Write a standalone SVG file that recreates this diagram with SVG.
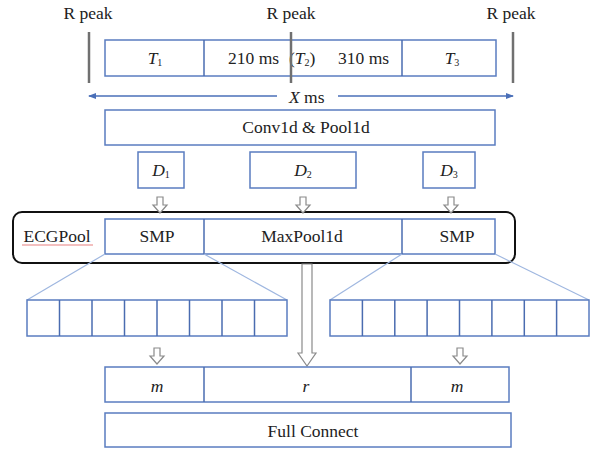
<svg xmlns="http://www.w3.org/2000/svg" width="600" height="451" viewBox="0 0 600 451" font-family="'Liberation Serif', 'Times New Roman', serif">
  <style>
    .box { fill: #ffffff; stroke: #5a7cc0; stroke-width: 1.5; }
    .div { stroke: #4a6cb0; stroke-width: 1.5; }
    .fan { stroke: #9fb7e0; stroke-width: 1.2; fill: none; }
    .peak { stroke: #707070; stroke-width: 2.5; }
    .axis { stroke: #4a6fb8; stroke-width: 1.5; fill: none; }
    .hollow { fill: #ffffff; stroke: #8a8a8a; stroke-width: 1.2; stroke-linejoin: miter; }
    text { font-family: "Liberation Serif", "Times New Roman", serif; font-size: 17.5px; fill: #222222; }
    .c { text-anchor: middle; }
    .it { font-style: italic; }
    .sub { font-size: 10px; font-style: normal; }
  </style>
  <defs>
    <marker id="ah" markerWidth="8" markerHeight="8" refX="7" refY="4" orient="auto-start-reverse" markerUnits="userSpaceOnUse">
      <path d="M0,1 L8,4 L0,7 Z" fill="#4a6fb8"/>
    </marker>
    <!-- small hollow down arrow, tip at origin -->
    <path id="harrow" class="hollow" d="M-3,-16 L3,-16 L3,-8 L7,-8 L0,0 L-7,-8 L-3,-8 Z"/>
  </defs>

  <!-- R peak labels -->
  <g id="rpeaks">
    <text class="c" x="88" y="19">R peak</text>
    <text class="c" x="291" y="19">R peak</text>
    <text class="c" x="511" y="19">R peak</text>
  </g>

  <!-- segment row -->
  <g id="segments">
    <rect class="box" x="105" y="40" width="391" height="36"/>
    <line class="div" x1="204" y1="40" x2="204" y2="76"/>
    <line class="div" x1="402" y1="40" x2="402" y2="76"/>
    <text class="c it" x="155" y="64">T<tspan class="sub" dy="2">1</tspan></text>
    <text x="228" y="64">210 ms</text>
    <text x="289" y="64">(<tspan class="it">T</tspan><tspan class="sub" dy="2">2</tspan><tspan dy="-2">)</tspan></text>
    <text x="338" y="64">310 ms</text>
    <text class="c it" x="452" y="64">T<tspan class="sub" dy="2">3</tspan></text>
  </g>

  <g id="peak-lines">
    <line class="peak" x1="89" y1="32" x2="89" y2="83"/>
    <line class="peak" x1="291" y1="32" x2="291" y2="83"/>
    <line class="peak" x1="513" y1="32" x2="513" y2="83"/>
  </g>

  <!-- X ms span -->
  <g id="span">
    <line class="axis" x1="277" y1="96" x2="89" y2="96" marker-end="url(#ah)"/>
    <line class="axis" x1="338" y1="96" x2="513" y2="96" marker-end="url(#ah)"/>
    <text x="289" y="103"><tspan class="it">X</tspan> ms</text>
  </g>

  <g id="conv">
    <rect class="box" x="105" y="110" width="390" height="35"/>
    <text class="c" x="306" y="133">Conv1d &amp; Pool1d</text>
  </g>

  <g id="d1">
    <rect class="box" x="138" y="152" width="46" height="36"/>
    <text class="c it" x="161" y="176">D<tspan class="sub" dy="2">1</tspan></text>
  </g>
  <g id="d2">
    <rect class="box" x="250" y="152" width="106" height="36"/>
    <text class="c it" x="303" y="176">D<tspan class="sub" dy="2">2</tspan></text>
  </g>
  <g id="d3">
    <rect class="box" x="423" y="152" width="52" height="36"/>
    <text class="c it" x="449" y="176">D<tspan class="sub" dy="2">3</tspan></text>
  </g>

  <!-- ECGPool block -->
  <g id="ecgpool">
    <rect x="13" y="212" width="502" height="51" rx="9" ry="9" fill="#ffffff" stroke="#111111" stroke-width="2"/>
    <text class="c" x="57" y="242">ECGPool</text>
    <line x1="22" y1="245" x2="93" y2="245" stroke="#e88080" stroke-width="1.2"/>
    <rect class="box" x="105" y="219" width="390" height="35"/>
    <line class="div" x1="204" y1="219" x2="204" y2="254"/>
    <line class="div" x1="402" y1="219" x2="402" y2="254"/>
    <text class="c" x="157" y="242">SMP</text>
    <text class="c" x="302" y="242">MaxPool1d</text>
    <text class="c" x="457" y="242">SMP</text>
  </g>

  <!-- connectors -->
  <g id="connectors">
    <use href="#harrow" x="160" y="213"/>
    <use href="#harrow" x="303" y="213"/>
    <use href="#harrow" x="451" y="213"/>
    <line class="fan" x1="105" y1="254" x2="27" y2="300"/>
    <line class="fan" x1="204" y1="254" x2="287" y2="300"/>
    <line class="fan" x1="402" y1="254" x2="330" y2="300"/>
    <line class="fan" x1="495" y1="254" x2="589" y2="300"/>
    <path class="hollow" d="M302,264 L312,264 L312,353 L316,353 L307,366 L298,353 L302,353 Z"/>
    <use href="#harrow" x="157" y="364"/>
    <use href="#harrow" x="460" y="364"/>
  </g>

  <!-- pooled cells -->
  <g id="cells-left">
    <rect class="box" x="27" y="300" width="260" height="36"/>
    <line class="div" x1="59.5" y1="300" x2="59.5" y2="336"/>
    <line class="div" x1="92" y1="300" x2="92" y2="336"/>
    <line class="div" x1="124.5" y1="300" x2="124.5" y2="336"/>
    <line class="div" x1="157" y1="300" x2="157" y2="336"/>
    <line class="div" x1="189.5" y1="300" x2="189.5" y2="336"/>
    <line class="div" x1="222" y1="300" x2="222" y2="336"/>
    <line class="div" x1="254.5" y1="300" x2="254.5" y2="336"/>
  </g>
  <g id="cells-right">
    <rect class="box" x="330" y="300" width="259" height="36"/>
    <line class="div" x1="362.4" y1="300" x2="362.4" y2="336"/>
    <line class="div" x1="394.8" y1="300" x2="394.8" y2="336"/>
    <line class="div" x1="427.1" y1="300" x2="427.1" y2="336"/>
    <line class="div" x1="459.5" y1="300" x2="459.5" y2="336"/>
    <line class="div" x1="491.9" y1="300" x2="491.9" y2="336"/>
    <line class="div" x1="524.3" y1="300" x2="524.3" y2="336"/>
    <line class="div" x1="556.6" y1="300" x2="556.6" y2="336"/>
  </g>

  <g id="mrm">
    <rect class="box" x="105" y="367" width="404" height="35"/>
    <line class="div" x1="204" y1="367" x2="204" y2="402"/>
    <line class="div" x1="411" y1="367" x2="411" y2="402"/>
    <text class="c it" x="157" y="392">m</text>
    <text class="c it" x="306" y="392">r</text>
    <text class="c it" x="457" y="392">m</text>
  </g>

  <g id="fullconnect">
    <rect class="box" x="105" y="413" width="406" height="34"/>
    <text class="c" x="313" y="437">Full Connect</text>
  </g>
</svg>
